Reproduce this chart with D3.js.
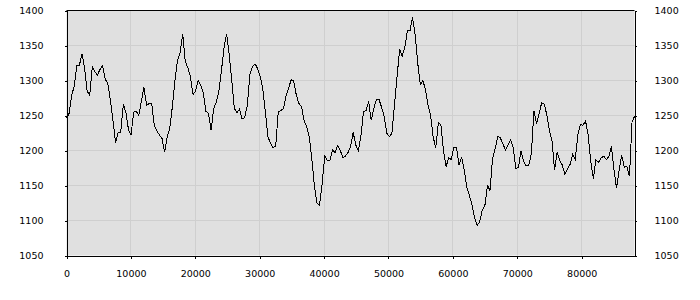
<!DOCTYPE html>
<html>
<head>
<meta charset="utf-8">
<script src="https://cdn.jsdelivr.net/npm/d3@7"></script>
<style>
body { margin: 0; background: #fff; }
text { font-family: "DejaVu Sans", sans-serif; font-size: 9.5px; fill: #000; }
</style>
</head>
<body>
<script>
// sample spacing on the x axis (one value every `step` units)
var step = 401;
var values = [
  1246,1253,1279,1292,1322,1322,1338,1318,1285,1279,1320,1312,1308,1316,1321,1302,1296,1272,1243,1211,
  1226,1226,1266,1254,1230,1222,1255,1256,1250,1271,1290,1265,1267,1267,1235,1228,1222,1217,
  1198,1219,1232,1263,1300,1329,1340,1366,1327,1318,1305,1280,1285,1300,1293,1282,1256,1253,1229,1260,
  1269,1285,1314,1347,1367,1337,1300,1260,1254,1259,1245,1247,1264,1308,1320,1324,1317,
  1306,1288,1255,1220,1210,1204,1206,1255,1257,1260,1278,1289,1301,1299,1279,1267,1263,1243,1234,1220,
  1188,1149,1125,1122,1153,1192,1186,1186,1201,1197,1207,1200,1190,1192,1197,1205,1226,
  1208,1200,1220,1255,1257,1270,1243,1260,1273,1273,1262,1249,1225,1220,1224,1265,1305,1345,1335,1347,
  1371,1371,1390,1366,1325,1294,1300,1287,1265,1250,1219,1204,1240,1236,1199,1177,
  1190,1187,1205,1205,1179,1191,1173,1148,1136,1123,1105,1093,1098,1115,1121,1150,1143,1189,1203,1220,
  1218,1209,1201,1208,1215,1204,1174,1176,1199,1185,1178,1179,1195,1257,1238,1253,1268,
  1266,1251,1228,1214,1172,1198,1186,1179,1166,1174,1180,1194,1187,1222,1237,1236,1242,1222,1185,1160,
  1186,1183,1189,1192,1187,1191,1206,1172,1146,1172,1193,1176,1177,1163,1241,1249
];
var xTicks = [0, 10000, 20000, 30000, 40000, 50000, 60000, 70000, 80000];
var yTicks = [1050, 1100, 1150, 1200, 1250, 1300, 1350, 1400];
var xMax = 88200;

var width = 568, height = 245;

var svg = d3.select('body').append('svg')
    .attr('width', 700).attr('height', 300);

var g = svg.append('g').attr('transform', 'translate(66.5,10.5)');

var x = d3.scaleLinear().domain([0, xMax]).range([0, width]);
var y = d3.scaleLinear().domain([1050, 1400]).range([height, 0]);

g.append('rect')
    .attr('width', width).attr('height', height)
    .style('fill', '#e0e0e0');

// grid
g.selectAll('.vgrid').data(xTicks.slice(1)).enter().append('line')
    .attr('x1', d => Math.round(x(d))).attr('x2', d => Math.round(x(d)))
    .attr('y1', 0).attr('y2', height)
    .attr('stroke', '#cfcfcf');
g.selectAll('.hgrid').data(yTicks.slice(1, -1)).enter().append('line')
    .attr('y1', d => Math.round(y(d))).attr('y2', d => Math.round(y(d)))
    .attr('x1', 0).attr('x2', width)
    .attr('stroke', '#cfcfcf');

g.append('clipPath').attr('id', 'clip')
    .append('rect').attr('x', -0.5).attr('y', -0.5).attr('width', width + 1).attr('height', height + 1);

var line = d3.line()
    .x((d, i) => x(i * step))
    .y(d => y(d));

g.append('path')
    .datum(values)
    .attr('clip-path', 'url(#clip)')
    .attr('d', line)
    .attr('fill', 'none')
    .attr('stroke', '#000')
    .attr('stroke-width', 1)
    .style('shape-rendering', 'crispEdges');

// frame top
g.append('line').attr('x1', 0).attr('x2', width).attr('y1', 0).attr('y2', 0).attr('stroke', '#000');

var left = g.append('g')
    .call(d3.axisLeft(y).tickValues(yTicks).tickSize(2).tickSizeOuter(0).tickPadding(21).tickFormat(d3.format('d')));
var right = g.append('g').attr('transform', 'translate(' + width + ',0)')
    .call(d3.axisRight(y).tickValues(yTicks).tickSize(2).tickSizeOuter(0).tickPadding(18).tickFormat(d3.format('d')));
var bottom = g.append('g').attr('transform', 'translate(0,' + height + ')')
    .call(d3.axisBottom(x).tickValues(xTicks).tickSize(3).tickSizeOuter(0).tickPadding(12).tickFormat(d3.format('d')));

g.selectAll('.domain, .tick line').attr('stroke', '#000').style('shape-rendering', 'crispEdges');
g.selectAll('.tick text').style('font-family', '"DejaVu Sans", sans-serif').style('font-size', '9.5px').attr('fill', '#000');
</script>
</body>
</html>
